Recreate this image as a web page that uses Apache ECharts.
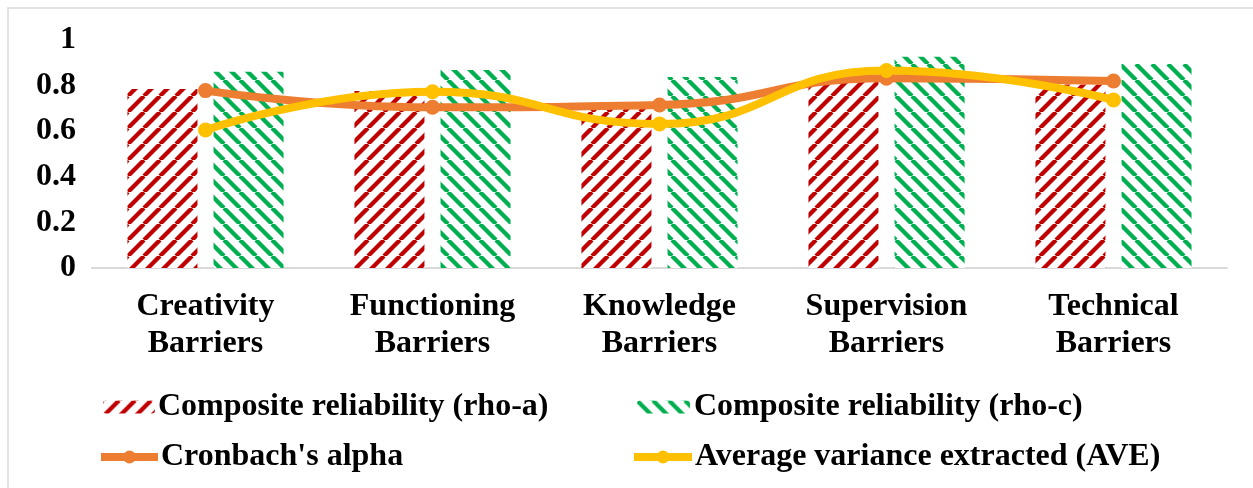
<!DOCTYPE html>
<html>
<head>
<meta charset="utf-8">
<script src="https://cdn.jsdelivr.net/npm/echarts@6/dist/echarts.min.js"></script>
<style>
html,body{margin:0;padding:0;background:#fff;}
#chart{width:1253px;height:488px;}
</style>
</head>
<body>
<div id="chart"></div>
<script>
const categories = ['Creativity\nBarriers','Functioning\nBarriers','Knowledge\nBarriers','Supervision\nBarriers','Technical\nBarriers'];
const rhoA = [0.785, 0.776, 0.700, 0.846, 0.805];
const rhoC = [0.861, 0.868, 0.838, 0.927, 0.895];
const alpha = [0.778, 0.705, 0.715, 0.832, 0.820];
const ave = [0.605, 0.773, 0.632, 0.866, 0.737];
const yTicks = [0, 0.2, 0.4, 0.6, 0.8, 1];

function hatch(color, dir) {
  const P = 16;
  const c = document.createElement('canvas');
  c.width = P; c.height = P;
  const g = c.getContext('2d');
  g.fillStyle = '#fff';
  g.fillRect(0, 0, P, P);
  g.strokeStyle = color;
  g.lineWidth = 4.3;
  for (const o of [-P, 0, P]) {
    g.beginPath();
    if (dir === 'up') { g.moveTo(o, P); g.lineTo(o + P, 0); }
    else { g.moveTo(o, 0); g.lineTo(o + P, P); }
    g.stroke();
  }
  return { image: c, repeat: 'repeat' };
}

const font = '"Liberation Serif", "Times New Roman", serif';
const chart = echarts.init(document.getElementById('chart'), null, {renderer: 'canvas'});
const legendText = { fontFamily: font, fontWeight: 'bold', fontSize: 32, color: '#000' };
function legend(name, left, top, w, h, pad) {
  return { data: [name], left: left, top: top, itemWidth: w, itemHeight: h, itemGap: 0,
    lineStyle: { width: 8 },
    textStyle: Object.assign({padding: [0,0,0,pad]}, legendText), selectedMode: false };
}
chart.setOption({
  animation: false,
  graphic: [{ type: 'rect', shape: { x: 8, y: 8, width: 1260, height: 500 },
    style: { fill: 'none', stroke: '#d9d9d9', lineWidth: 1.5 }, silent: true }],
  grid: { left: 92, right: 26, top: 40, bottom: 220 },
  legend: [
    legend('Composite reliability (rho-a)', 98, 386, 52, 13, -2),
    legend('Composite reliability (rho-c)', 632, 386, 53, 13, -1),
    legend("Cronbach's alpha", 92, 436, 57, 16, -2),
    legend('Average variance extracted (AVE)', 625, 436, 58, 16, -2)
  ],
  xAxis: {
    type: 'category', data: categories,
    axisLine: { lineStyle: { color: '#d9d9d9', width: 2 } },
    axisTick: { show: false },
    axisLabel: { fontFamily: font, fontWeight: 'bold', fontSize: 32, color: '#000', lineHeight: 37, margin: 20, interval: 0 }
  },
  yAxis: {
    type: 'value', min: yTicks[0], max: yTicks[yTicks.length - 1], interval: 0.2,
    axisLine: { show: false }, axisTick: { show: false }, splitLine: { show: false },
    axisLabel: { fontFamily: font, fontWeight: 'bold', fontSize: 32, color: '#000', margin: 16 }
  },
  series: [
    { name: 'Composite reliability (rho-a)', type: 'bar', data: rhoA, barWidth: 70, barGap: '23%',
      itemStyle: { color: hatch('#c00000', 'up') } },
    { name: 'Composite reliability (rho-c)', type: 'bar', data: rhoC, barWidth: 70,
      itemStyle: { color: hatch('#00b050', 'down') } },
    { name: "Cronbach's alpha", type: 'line', data: alpha, smooth: 0.5, symbol: 'circle', symbolSize: 15,
      lineStyle: { color: '#ed7d31', width: 8 }, itemStyle: { color: '#ed7d31' } },
    { name: 'Average variance extracted (AVE)', type: 'line', data: ave, smooth: 0.5, symbol: 'circle', symbolSize: 15,
      lineStyle: { color: '#ffc000', width: 8 }, itemStyle: { color: '#ffc000' } }
  ]
});
</script>
</body>
</html>
